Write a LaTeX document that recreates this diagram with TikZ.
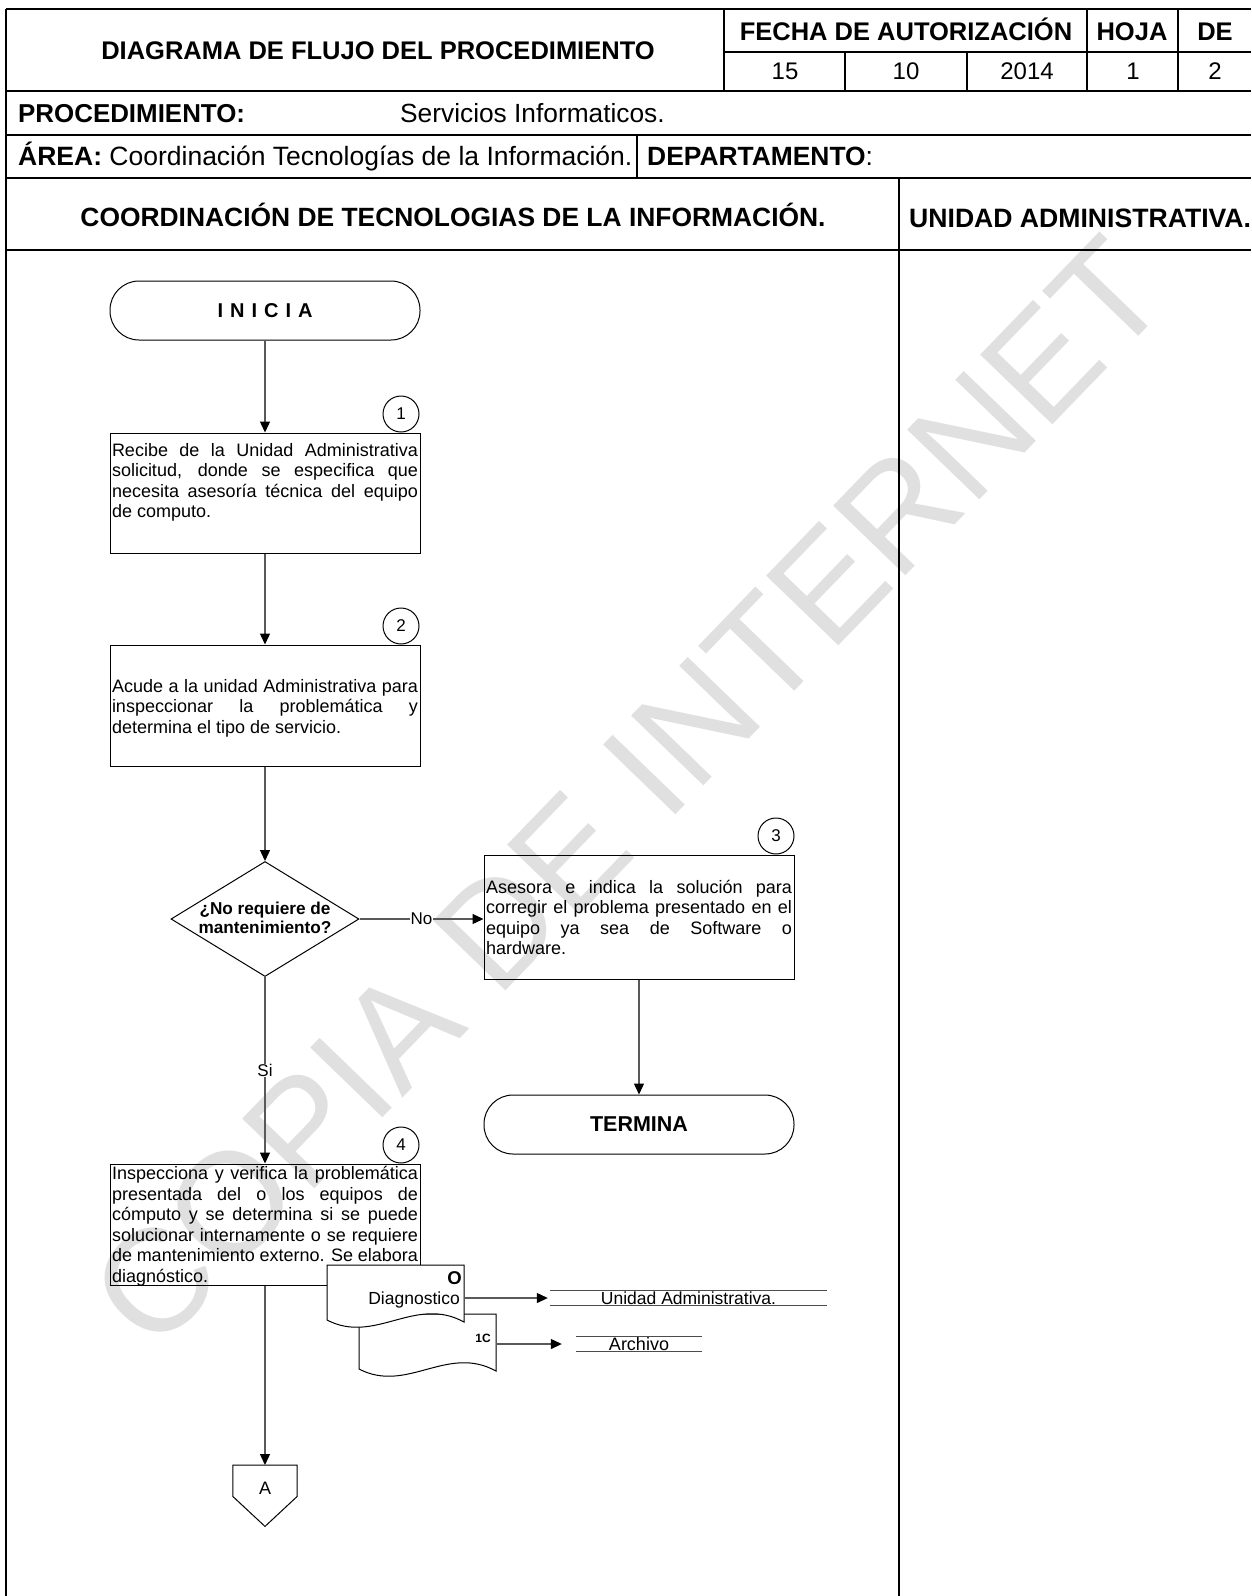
\documentclass[tikz,border=0pt]{standalone}
\usepackage{fontspec}
\setmainfont{Liberation Sans}
\usetikzlibrary{arrows.meta,calc,shapes.geometric}
\newlength\bw
\setlength\bw{306pt}
\newcommand\jline[1]{\makebox[\bw][s]{#1}}
\newcommand\lline[1]{\makebox[\bw][l]{#1}}
\newcommand\fsz[2]{\fontsize{#1pt}{#2pt}\selectfont}
\tikzset{
 frame/.style={line width=1.6pt, black},
 hb/.style={font=\fsz{25.5}{30}\bfseries, inner sep=0pt},
 hr/.style={font=\fsz{25.5}{30}, inner sep=0pt},
 hn/.style={font=\fsz{24}{28}, inner sep=0pt},
 termbox/.style={draw, line width=1pt, rounded corners=29pt, minimum width=310pt, minimum height=59pt, inner sep=0pt},
 proc/.style={draw, line width=1pt, minimum width=310pt, inner sep=0pt},
 btxt/.style={font=\fsz{18}{20.5}, align=left, inner sep=0pt, anchor=north},
 num/.style={draw, circle, line width=1pt, fill=white, minimum size=36pt, inner sep=0pt, font=\fsz{17}{20}},
 flow/.style={draw=black!65, line width=1.3pt, -{Triangle[width=10pt,length=11pt,color=black]}},
 lab/.style={font=\fsz{17}{20}, fill=white, inner sep=0.5pt},
 doc/.style={draw, line width=1pt, fill=white},
 small/.style={font=\fsz{17.5}{20}, inner sep=0pt},
 uline/.style={line width=1pt, black!70},
}
\begin{document}
\begin{tikzpicture}[x=1pt,y=-1pt]
\useasboundingbox (0,0) rectangle (1251,1596);
% watermark
\node[rotate=46, text=black!12, font=\fsz{146}{165}, inner sep=0pt] (wm) at (628,792) {COPIA DE INTERNET};
% frame
\draw[frame] (6,9) -- (1251,9);
\draw[frame] (6,91) -- (1251,91);
\draw[frame] (6,135) -- (1251,135);
\draw[frame] (6,178) -- (1251,178);
\draw[frame] (6,250) -- (1251,250);
\draw[frame] (724,52) -- (1251,52);
\draw[frame] (6,9) -- (6,1596);
\draw[frame] (724,9) -- (724,91);
\draw[frame] (1087,9) -- (1087,91);
\draw[frame] (1178,9) -- (1178,91);
\draw[frame] (845,52) -- (845,91);
\draw[frame] (967,52) -- (967,91);
\draw[frame] (637,135) -- (637,178);
\draw[frame] (899,178) -- (899,1596);
% header texts
\node[hb, anchor=base] (title) at (378,59) {DIAGRAMA DE FLUJO DEL PROCEDIMIENTO};
\node[hb, anchor=base] (fecha) at (906,40) {FECHA DE AUTORIZACIÓN};
\node[hb, anchor=base] (hoja) at (1132,40) {HOJA};
\node[hb, anchor=base] (dehdr) at (1215,40) {DE};
\node[hn, anchor=base] (d15) at (785,79) {15};
\node[hn, anchor=base] (d10) at (906,79) {10};
\node[hn, anchor=base] (d2014) at (1027,79) {2014};
\node[hn, anchor=base] (h1) at (1133,79) {1};
\node[hn, anchor=base] (h2) at (1215,79) {2};
\node[hb, anchor=base west, font=\fsz{25.9}{30}\bfseries] (proc) at (18,122) {PROCEDIMIENTO:};
\node[hr, anchor=base west, font=\fsz{26.3}{30}] (procv) at (400,122) {Servicios Informaticos.};
\node[hr, anchor=base west, font=\fsz{26.5}{30}] (area) at (18,165) {{\bfseries ÁREA:} Coordinación Tecnologías de la Información.};
\node[hr, anchor=base west, font=\fsz{26.4}{30}] (depto) at (647,165) {{\bfseries DEPARTAMENTO}:};
\node[hb, anchor=base, font=\fsz{26.4}{30}\bfseries] (lane1) at (453,226) {COORDINACIÓN DE TECNOLOGIAS DE LA INFORMACIÓN.};
\node[hb, anchor=base west, font=\fsz{26.6}{30}\bfseries] (lane2) at (909,227) {UNIDAD ADMINISTRATIVA.};
% flow nodes
\node[termbox, font=\fsz{20}{22}\bfseries] (inicia) at (265,310.5) {I\hspace{7pt}N\hspace{7pt}I\hspace{7pt}C\hspace{7pt}I\hspace{7pt}A};
\node[proc, minimum height=120pt] (b1) at (265,493) {};
\node[btxt] (t1) at (265,443) {\jline{Recibe de la Unidad Administrativa}\\\jline{solicitud, donde se especifica que}\\\jline{necesita asesoría técnica del equipo}\\\lline{de computo.}};
\node[num] (n1) at (401,414) {1};
\node[proc, minimum height=121pt] (b2) at (265,705.5) {};
\node[btxt] (t2) at (265,679) {\jline{Acude a la unidad Administrativa para}\\\jline{inspeccionar la problemática y}\\\lline{determina el tipo de servicio.}};
\node[num] (n2) at (401,626) {2};
\node[diamond, draw, line width=1pt, minimum width=188pt, minimum height=115pt, inner sep=0pt] (dec) at (265,919) {};
\node[font=\fsz{17.2}{19}\bfseries, align=center, inner sep=0pt] (dect) at (265,918) {¿No requiere de\\mantenimiento?};
\node[proc, minimum height=124pt] (b3) at (639,917) {};
\node[btxt] (t3) at (639,880) {\jline{Asesora e indica la solución para}\\\jline{corregir el problema presentado en el}\\\jline{equipo ya sea de Software o}\\\lline{hardware.}};
\node[num] (n3) at (776,836) {3};
\node[termbox, font=\fsz{21.5}{25}\bfseries] (fin) at (639,1124.5) {TERMINA};
\node[proc, minimum height=121pt] (b4) at (265,1224.5) {};
\node[btxt] (t4) at (265,1166.5) {\jline{Inspecciona y verifica la problemática}\\\jline{presentada del o los equipos de}\\\jline{cómputo y se determina si se puede}\\\jline{solucionar internamente o se requiere}\\\jline{de mantenimiento externo. Se elabora}\\\lline{diagnóstico.}};
\node[num] (n4) at (401,1145) {4};
% documents
\draw[doc] (359,1314) -- (496,1314) -- (496,1371) .. controls (447,1344) and (407,1394) .. (359,1369) -- cycle;
\draw[doc] (327,1265) -- (464,1265) -- (464,1322) .. controls (415,1295) and (375,1345) .. (327,1320) -- cycle;
\node[font=\fsz{18.5}{20}\bfseries, anchor=base east, inner sep=0pt] (docO) at (462,1284) {O};
\node[small, anchor=base east] (diag) at (460,1304) {Diagnostico};
\node[font=\fsz{12}{14}\bfseries, anchor=base east, inner sep=0pt] (doc1c) at (491,1342) {1C};
\coordinate (d1e) at (464,1298);
\coordinate (d2e) at (496,1344);
\node[small, minimum width=277pt, minimum height=15pt] (ua) at (688.5,1298) {Unidad Administrativa.};
\draw[uline] (ua.north west) -- (ua.north east);
\draw[uline] (ua.south west) -- (ua.south east);
\node[font=\fsz{18}{20}, inner sep=0pt, minimum width=126pt, minimum height=15pt] (arch) at (639,1344) {Archivo};
\draw[uline] (arch.north west) -- (arch.north east);
\draw[uline] (arch.south west) -- (arch.south east);
% off-page connector
\node[minimum width=64pt, minimum height=31pt, inner sep=0pt, anchor=north] (offA) at (265,1465) {};
\draw[line width=1pt] (offA.north west) -- (offA.north east) -- (offA.south east) -- ($(offA.south)+(0,30)$) -- (offA.south west) -- cycle;
\node[font=\fsz{18}{20}, inner sep=0pt] (alab) at (265,1488) {A};
% connectors
\draw[flow] (inicia.south) -- (b1.north);
\draw[flow] (b1.south) -- (b2.north);
\draw[flow] (b2.south) -- (dec.north);
\draw[flow] (dec.east) -- node[lab]{No} (dec.east -| b3.west);
\draw[flow] (dec.south) -- node[lab]{Si} (b4.north);
\draw[flow] (b3.south) -- (fin.north);
\draw[flow] (b4.south) -- (offA.north);
\draw[flow, shorten >=2pt] (d1e) -- (d1e -| ua.west);
\draw[flow, shorten >=14pt] (d2e) -- (d2e -| arch.west);
\end{tikzpicture}
\end{document}
